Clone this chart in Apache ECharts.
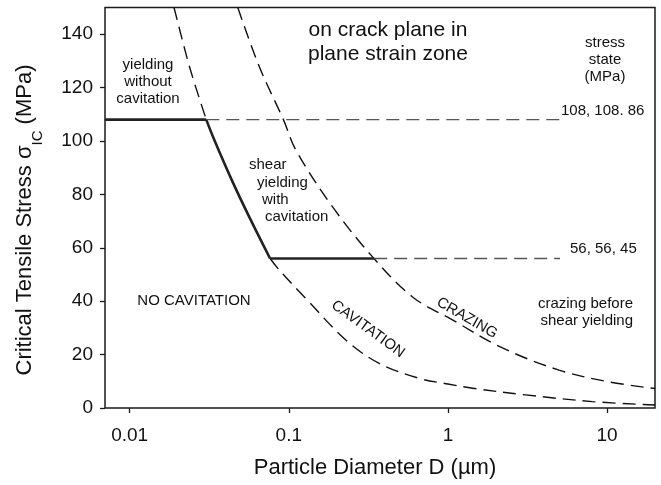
<!DOCTYPE html>
<html>
<head>
<meta charset="utf-8">
<script src="https://cdn.jsdelivr.net/npm/echarts@6/dist/echarts.min.js"></script>
<style>
html,body{margin:0;padding:0;background:#fff;}
#c{width:661px;height:485px;}
</style>
</head>
<body>
<div id="c"></div>
<script>
// ---- data ----
const xTicks = [0.01, 0.1, 1, 10];
const yTicks = [0, 20, 40, 60, 80, 100, 120, 140];

// cavitation boundary (D in µm, stress in MPa)
const cavitationTop = [[0.0190, 150], [0.0238, 127.7], [0.0303, 108]];
const cavitationSolid = [[0.0303, 108], [0.0341, 100.3], [0.0445, 84.5], [0.0566, 71.4], [0.0763, 56]];
const cavitationLow = [[0.0763, 56], [0.0873, 51.6], [0.128, 41.0], [0.229, 25.4], [0.370, 16.7], [0.660, 11.1], [1.0, 9.0], [1.43, 7.4], [3.08, 4.9], [8.07, 2.4], [20, 1.1]];

// crazing boundary
const crazing = [[0.0478, 150], [0.0654, 127.7], [0.0925, 108], [0.111, 96.5], [0.1885, 75.3], [0.336, 56.6], [0.599, 41.6], [1.067, 33.0], [2.2, 22.5], [4.99, 14.2], [10.26, 9.8], [20, 7.3]];

// stress-state levels
const yield108Solid = [[0.007, 108], [0.0303, 108]];
const yield108Dash = [[0.0303, 108], [5.06, 108]];
const yield56Solid = [[0.0763, 56], [0.344, 56]];
const yield56Dash = [[0.344, 56], [5.06, 56]];

const FONT = '"Liberation Sans", Arial, Helvetica, sans-serif';
const INK = '#111';

const chart = echarts.init(document.getElementById('c'), null, {renderer: 'canvas'});

function lineSeries(data, opts) {
  return Object.assign({
    type: 'line', data: data, showSymbol: false, symbol: 'none',
    silent: true, animation: false
  }, opts);
}
const dashCurve = {color: '#111', width: 1.4, type: [13, 7]};
const dashFlat = {color: '#555', width: 1.4, type: [13, 7]};
const solidThick = {color: '#222', width: 2.6, type: 'solid'};

function txt(text, x, y, size, align, extra) {
  return Object.assign({
    type: 'text', x: x, y: y, silent: true,
    style: {text: text, font: size + 'px ' + FONT, fill: INK, textAlign: align || 'center', textVerticalAlign: 'middle', lineHeight: 17}
  }, extra || {});
}

chart.setOption({
  animation: false,
  backgroundColor: '#fff',
  grid: {left: 105, right: 6, top: 7.5, bottom: 77, show: true, borderColor: '#1a1a1a', borderWidth: 1.5, backgroundColor: 'transparent'},
  xAxis: {
    type: 'log', min: 0.007, max: 20, logBase: 10,
    axisLine: {show: false},
    splitLine: {show: false},
    axisTick: {show: true, length: 5, lineStyle: {color: '#1a1a1a', width: 1.3}, customValues: xTicks},
    axisLabel: {
      customValues: xTicks, margin: 18,
      fontSize: 19, fontFamily: FONT, color: INK,
      formatter: v => String(parseFloat(Number(v).toPrecision(6)))
    }
  },
  yAxis: {
    type: 'value', min: 0, max: 150,
    axisLine: {show: false},
    splitLine: {show: false},
    axisTick: {show: true, length: 5, lineStyle: {color: '#1a1a1a', width: 1.3}, customValues: yTicks},
    axisLabel: {customValues: yTicks, margin: 12, fontSize: 19, fontFamily: FONT, color: INK}
  },
  series: [
    lineSeries(cavitationTop, {smooth: 0.3, lineStyle: dashCurve}),
    lineSeries(cavitationSolid, {smooth: 0.4, lineStyle: solidThick}),
    lineSeries(cavitationLow, {smooth: 0.35, lineStyle: dashCurve}),
    lineSeries(crazing, {smooth: 0.35, lineStyle: dashCurve}),
    lineSeries(yield108Dash, {lineStyle: dashFlat}),
    lineSeries(yield56Dash, {lineStyle: dashFlat}),
    lineSeries(yield108Solid, {lineStyle: solidThick}),
    lineSeries(yield56Solid, {lineStyle: solidThick})
  ],
  graphic: [
    {
      type: 'text', x: 25, y: 220, rotation: Math.PI / 2, silent: true,
      style: {
        text: 'Critical Tensile Stress \u03c3{sub|IC} (MPa)',
        font: '22px ' + FONT, fill: INK, textAlign: 'center', textVerticalAlign: 'middle',
        rich: {sub: {font: '15px ' + FONT, fill: INK, lineHeight: 15, padding: [16, 0, 0, 0], verticalAlign: 'top'}}
      }
    },
    txt('Particle Diameter D (\u00b5m)', 375, 468, 22),
    txt('on crack plane in\nplane strain zone', 388, 42, 21, 'center', {style: {text: 'on crack plane in\nplane strain zone', font: '21px ' + FONT, fill: INK, textAlign: 'center', textVerticalAlign: 'middle', lineHeight: 24}}),
    txt('yielding\nwithout\ncavitation', 148, 82, 15),
    txt('shear', 249, 165, 15, 'left'),
    txt('yielding', 257, 183, 15, 'left'),
    txt('with', 262, 200, 15, 'left'),
    txt('cavitation', 265, 217, 15, 'left'),
    txt('NO CAVITATION', 194, 301, 15),
    txt('stress\nstate\n(MPa)', 605, 60, 15),
    txt('108, 108. 86', 561, 111, 15, 'left'),
    txt('56, 56, 45', 570, 249, 15, 'left'),
    txt('crazing before\nshear yielding', 633, 312, 15, 'right'),
    txt('CAVITATION', 368, 329, 15, 'center', {rotation: -36 * Math.PI / 180}),
    txt('CRAZING', 467, 318, 15, 'center', {rotation: -30 * Math.PI / 180})
  ]
});
</script>
</body>
</html>
